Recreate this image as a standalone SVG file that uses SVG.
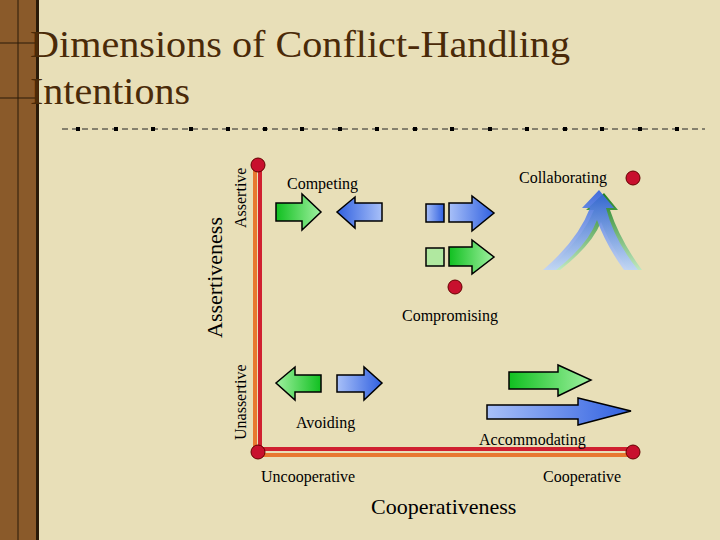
<svg xmlns="http://www.w3.org/2000/svg" width="720" height="540" viewBox="0 0 720 540">
<defs>
<linearGradient id="g" x1="0" x2="1"><stop offset="0" stop-color="#10c020"/><stop offset="1" stop-color="#a0f0a0"/></linearGradient>
<linearGradient id="gr" x1="1" x2="0"><stop offset="0" stop-color="#10c020"/><stop offset="1" stop-color="#a0f0a0"/></linearGradient>
<linearGradient id="b" x1="0" x2="1"><stop offset="0" stop-color="#a8c0f8"/><stop offset="1" stop-color="#3060e0"/></linearGradient>
<linearGradient id="bl" x1="1" x2="0"><stop offset="0" stop-color="#a8c0f8"/><stop offset="1" stop-color="#3060e0"/></linearGradient>
<linearGradient id="up" x1="0" y1="1" x2="0" y2="0"><stop offset="0" stop-color="#c0d4f8"/><stop offset="1" stop-color="#3060e0"/></linearGradient>
<linearGradient id="upg" x1="0" y1="1" x2="0" y2="0"><stop offset="0" stop-color="#c0e8c0"/><stop offset="1" stop-color="#208020"/></linearGradient>
</defs>
<style>
.t{font-family:"Liberation Serif",serif;fill:#000}
.a{stroke:#000;stroke-width:1.5}
.dot{fill:#c8102e;stroke:#600;stroke-width:1}
.tk{fill:#000}
</style>
<rect width="720" height="540" fill="#e8dfb8"/>
<g id="sidebar">
<rect x="0" y="0" width="36" height="540" fill="#8a5a2a"/>
<rect x="36" y="0" width="3" height="540" fill="#2a1a08"/>
<line x1="18" y1="0" x2="18" y2="540" stroke="#2a1a08"/>
<line x1="0" y1="43" x2="38" y2="43" stroke="#2a1a08"/>
<line x1="0" y1="98" x2="38" y2="98" stroke="#2a1a08"/>
</g>
<g id="title">
<text class="t" x="30" y="57" font-size="38" textLength="540" lengthAdjust="spacingAndGlyphs" style="fill:#4a2a08">Dimensions of Conflict-Handling</text>
<text class="t" x="30" y="104" font-size="38" textLength="160" lengthAdjust="spacingAndGlyphs" style="fill:#4a2a08">Intentions</text>
<line x1="62" y1="129" x2="705" y2="129" stroke="#222" stroke-dasharray="6,4"/>
<g class="tk"><rect x="76" y="127" width="4" height="4"/><rect x="114" y="127" width="4" height="4"/><rect x="151" y="127" width="4" height="4"/><rect x="189" y="127" width="4" height="4"/><rect x="226" y="127" width="4" height="4"/><rect x="263" y="127" width="4" height="4"/><rect x="300" y="127" width="4" height="4"/><rect x="338" y="127" width="4" height="4"/><rect x="375" y="127" width="4" height="4"/><rect x="413" y="127" width="4" height="4"/><rect x="450" y="127" width="4" height="4"/><rect x="488" y="127" width="4" height="4"/><rect x="525" y="127" width="4" height="4"/><rect x="563" y="127" width="4" height="4"/><rect x="600" y="127" width="4" height="4"/><rect x="638" y="127" width="4" height="4"/><rect x="675" y="127" width="4" height="4"/></g>
</g>
<g id="connectors">
<line x1="255" y1="165" x2="255" y2="455" stroke="#e87830" stroke-width="4"/>
<line x1="260" y1="165" x2="260" y2="450" stroke="#d02030" stroke-width="4"/>
<line x1="258" y1="449" x2="632" y2="449" stroke="#d02030" stroke-width="4"/>
<line x1="258" y1="455" x2="632" y2="455" stroke="#e87830" stroke-width="4"/>
</g>
<g id="axis-labels">
<text class="t" font-size="22" transform="translate(222,338) rotate(-90)">Assertiveness</text>
<text class="t" font-size="16" transform="translate(246,228) rotate(-90)">Assertive</text>
<text class="t" font-size="16" transform="translate(246,440) rotate(-90)">Unassertive</text>
<text class="t" x="261" y="482" font-size="16">Uncooperative</text>
<text class="t" x="543" y="482" font-size="16">Cooperative</text>
<text class="t" x="371" y="514" font-size="22">Cooperativeness</text>
</g>
<g id="dots">
<circle class="dot" cx="258" cy="165" r="7"/>
<circle class="dot" cx="258" cy="452" r="7"/>
<circle class="dot" cx="633" cy="452" r="7"/>
<circle class="dot" cx="633" cy="178" r="7"/>
<circle class="dot" cx="455" cy="287" r="7"/>
</g>
<g id="competing">
<text class="t" x="287" y="189" font-size="16">Competing</text>
<polygon class="a" fill="url(#g)" points="276,203 302,203 302,194 321,212 302,230 302,221 276,221"/>
<polygon class="a" fill="url(#bl)" points="382,203 355,203 355,197 337,212 355,228 355,221 382,221"/>
</g>
<g id="compromising">
<rect class="a" x="426" y="204" width="18" height="18" fill="url(#b)"/>
<polygon class="a" fill="url(#b)" points="449,203 472,203 472,196 494,213 472,231 472,222 449,222"/>
<rect class="a" x="426" y="248" width="18" height="18" fill="#b0e8a0"/>
<polygon class="a" fill="url(#g)" points="449,247 472,247 472,240 494,257 472,274 472,266 449,266"/>
<text class="t" x="402" y="321" font-size="16">Compromising</text>
</g>
<g id="collaborating">
<text class="t" x="519" y="183" font-size="16">Collaborating</text>
<path d="M546,270 Q582,240 594,210 L586,210 L604,193 L618,210 L610,210 Q620,240 642,270 L628,270 Q610,245 601,222 Q592,245 560,270 Z" fill="url(#upg)"/>
<path d="M543,270 Q578,240 590,208 L582,208 L599,190 L614,208 L606,208 Q614,240 638,270 L624,270 Q606,245 597,220 Q588,245 556,270 Z" fill="url(#up)" opacity="0.9"/>
</g>
<g id="avoiding">
<polygon class="a" fill="url(#gr)" points="321,375 295,375 295,367 276,383 295,400 295,392 321,392"/>
<polygon class="a" fill="url(#b)" points="337,375 364,375 364,367 382,383 364,400 364,392 337,392"/>
<text class="t" x="296" y="428" font-size="16">Avoiding</text>
</g>
<g id="accommodating">
<polygon class="a" fill="url(#g)" points="509,372 558,372 558,365 591,380 558,396 558,389 509,389"/>
<polygon class="a" fill="url(#b)" points="487,405 578,405 578,398 631,411 578,425 578,419 487,419"/>
<text class="t" x="479" y="445" font-size="16">Accommodating</text>
</g>
</svg>
